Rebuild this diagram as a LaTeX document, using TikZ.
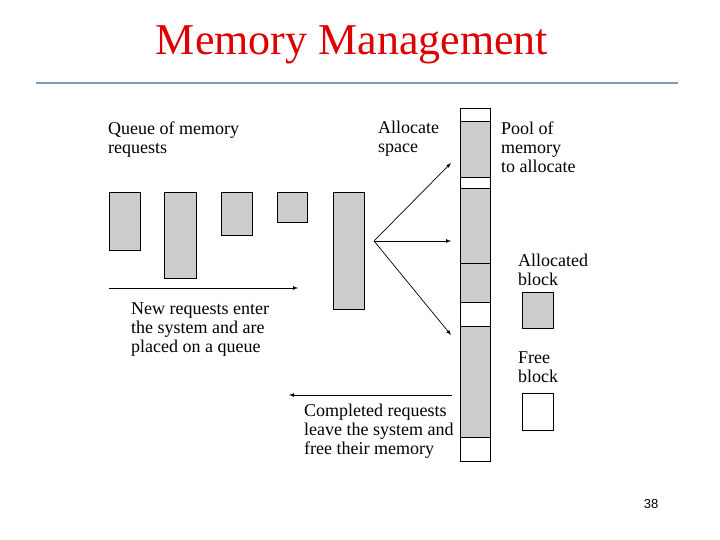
\documentclass[tikz,border=0pt]{standalone}
\usepackage{fontspec}
\setmainfont{Liberation Serif}
\setsansfont{Liberation Sans}
\usetikzlibrary{arrows, positioning}
\tikzset{
  node distance=0pt,
  every node/.style={align=left}
}
\definecolor{titlered}{RGB}{222,0,0}
\definecolor{ruleblue}{RGB}{122,154,192}

\begin{document}
\begin{tikzpicture}[x=1pt, y=-1pt]
\tikzstyle{block}=[rectangle, draw, fill=black!20, inner sep=0, outer sep=0,
  anchor=north west, line width=0.8pt]
\tikzstyle{freeblock}=[block, fill=white]
% base of a text node sits on its last line
\tikzstyle{txt}=[anchor=base west, inner sep=0,
  font=\fontsize{18}{19}\selectfont]
\tikzstyle{flow}=[-latex, draw, line width=0.7pt]

\useasboundingbox (0,0) rectangle (720,540);

% title
\node[anchor=base, inner sep=0, text=titlered,
  font=\fontsize{44}{44}\selectfont](title) at (352,55){Memory Management};
\draw[ruleblue, line width=2pt] (36,83) -- (678,83);

% queue of requests
\node[txt](qtxt) at (108,154){Queue of memory\\requests};
\node[block, minimum width=31pt, minimum height=58pt](req1) at (109,192){};
\node[block, minimum width=32pt, minimum height=86pt](req2) at (164,192){};
\node[block, minimum width=31pt, minimum height=43pt](req3) at (221,192){};
\node[block, minimum width=30pt, minimum height=30pt](req4) at (277,192){};
\node[block, minimum width=31pt, minimum height=117pt](req5) at (333,192){};

\coordinate (qin) at (109,288);
\coordinate (qend) at (298,288);
\draw[flow](qin) to (qend);
\node[txt](newtxt) at (131,352){New requests enter\\the system and are\\placed on a queue};

% pool of memory
\node[freeblock, minimum width=30pt, minimum height=13pt](p1) at (460,108){};
\node[block, minimum width=30pt, minimum height=56pt, below=of p1](p2){};
\node[freeblock, minimum width=30pt, minimum height=11pt, below=of p2](p3){};
\node[block, minimum width=30pt, minimum height=75pt, below=of p3](p4){};
\node[block, minimum width=30pt, minimum height=39pt, below=of p4](p5){};
\node[freeblock, minimum width=30pt, minimum height=24pt, below=of p5](p6){};
\node[block, minimum width=30pt, minimum height=111pt, below=of p6](p7){};
\node[freeblock, minimum width=30pt, minimum height=24pt, below=of p7](p8){};

\node[txt](alloctxt) at (378,153){Allocate\\space};
\node[txt](pooltxt) at (501,173){Pool of\\memory\\to allocate};

% allocate space
\coordinate (fan) at (374,241);
\coordinate (a1) at (451,163);
\coordinate (a2) at (451,241);
\coordinate (a3) at (451,335);
\draw[flow](fan) to (a1);
\draw[flow](fan) to (a2);
\draw[flow](fan) to (a3);

% legend
\node[txt](usedtxt) at (518,285){Allocated\\block};
\node[block, minimum width=31pt, minimum height=36pt](used) at (522,292){};
\node[txt](freetxt) at (518,382){Free\\block};
\node[freeblock, minimum width=31pt, minimum height=37pt](free) at (522,393){};

% completed requests
\coordinate (cstart) at (452,395);
\coordinate (cend) at (289,395);
\draw[flow](cstart) to (cend);
\node[txt](donetxt) at (304,454){Completed requests\\leave the system and\\free their memory};

% page number
\node[font=\sffamily\fontsize{13}{13}\selectfont, inner sep=0](page) at (651,504){38};
\end{tikzpicture}
\end{document}
